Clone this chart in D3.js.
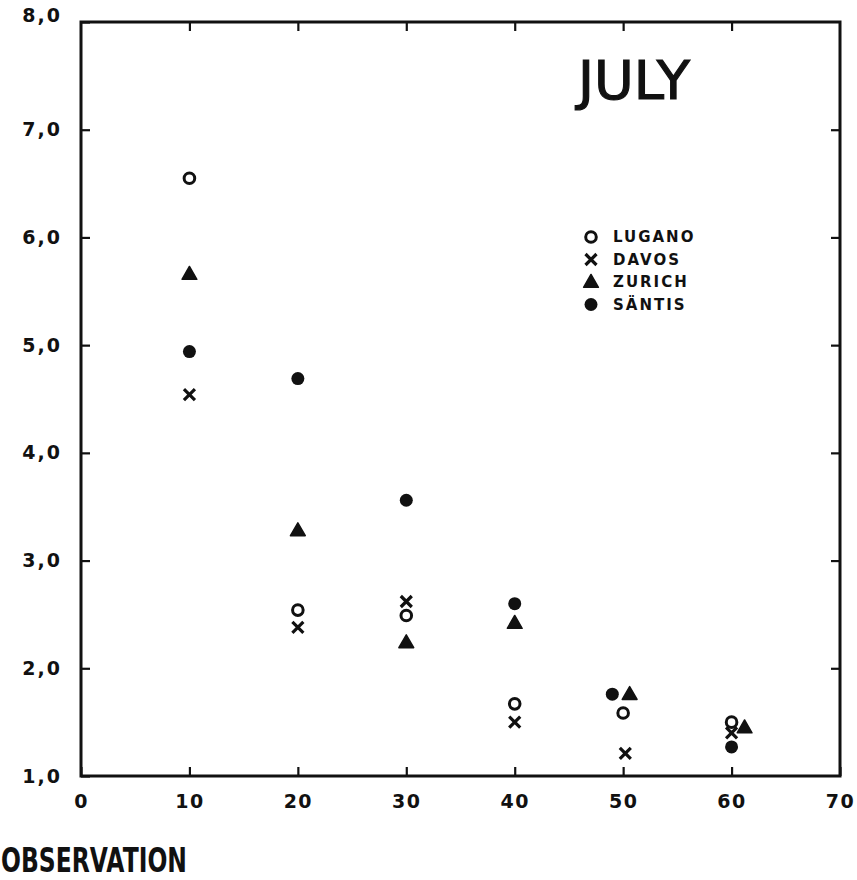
<!DOCTYPE html>
<html>
<head>
<meta charset="utf-8">
<script src="https://cdn.jsdelivr.net/npm/d3@7"></script>
<style>
  html, body { margin: 0; padding: 0; background: #fff; }
  svg { display: block; }
</style>
</head>
<body>
<div id="chart"></div>
<script>
const xTicks = [0, 10, 20, 30, 40, 50, 60, 70];
const yTicks = [1, 2, 3, 4, 5, 6, 7, 8];

const luganoX = [10, 20, 30, 40, 50, 60];
const luganoY = [6.55, 2.54, 2.49, 1.67, 1.585, 1.50];

const davosX = [10, 20, 30, 40, 50.2, 60];
const davosY = [4.54, 2.38, 2.62, 1.50, 1.21, 1.40];

const zurichX = [10, 20, 30, 40, 50.6, 61.2];
const zurichY = [5.66, 3.28, 2.24, 2.42, 1.76, 1.45];

const santisX = [10, 20, 30, 40, 49.0, 60];
const santisY = [4.94, 4.69, 3.56, 2.60, 1.76, 1.27];

const stations = ["LUGANO", "DAVOS", "ZURICH", "SÄNTIS"];
const symbols = ["openCircle", "cross", "triangle", "dot"];

const W = 857, H = 880;
const margin = { top: 22, right: 17, bottom: 104, left: 81 };
const ink = "#111";
const labelFont = "'DejaVu Sans', sans-serif";

const x = d3.scaleLinear().domain([0, 70]).range([margin.left, W - margin.right]);
const y = d3.scaleLinear().domain([1, 8]).range([H - margin.bottom, margin.top]);

const svg = d3.select("#chart").append("svg")
  .attr("width", W)
  .attr("height", H)
  .attr("viewBox", `0 0 ${W} ${H}`);

svg.append("rect").attr("width", W).attr("height", H).attr("fill", "#fff");

const tickLen = 9;

// bottom axis with inward ticks
const xAxis = svg.append("g")
  .attr("transform", `translate(0,${y(1)})`)
  .call(d3.axisBottom(x).tickValues(xTicks).tickSizeInner(-tickLen).tickSizeOuter(0).tickPadding(19).tickFormat(d3.format("d")));
xAxis.select(".domain").remove();
xAxis.selectAll(".tick line").attr("stroke", ink).attr("stroke-width", 2.2);
xAxis.selectAll(".tick text")
  .attr("fill", ink)
  .style("font-family", labelFont)
  .style("font-weight", "bold")
  .style("font-size", "19px")
  .style("letter-spacing", "1.5px");

// left axis
const yAxis = svg.append("g")
  .attr("transform", `translate(${x(0)},0)`)
  .call(d3.axisLeft(y).tickValues(yTicks).tickSizeInner(-tickLen).tickSizeOuter(0).tickPadding(19)
    .tickFormat(d => d3.format(".1f")(d).replace(".", ",")));
yAxis.select(".domain").remove();
yAxis.selectAll(".tick line").attr("stroke", ink).attr("stroke-width", 2.2);
yAxis.selectAll(".tick text")
  .attr("fill", ink)
  .style("font-family", labelFont)
  .style("font-weight", "bold")
  .style("font-size", "19px")
  .style("letter-spacing", "2px");
yAxis.selectAll(".tick")
  .filter(d => d === 8)
  .select("text").attr("dy", "-0.05em");

// top and right ticks, no labels
const topAxis = svg.append("g")
  .attr("transform", `translate(0,${y(8)})`)
  .call(d3.axisTop(x).tickValues(xTicks.slice(1, -1)).tickSizeInner(-tickLen).tickSizeOuter(0).tickFormat(""));
topAxis.select(".domain").remove();
topAxis.selectAll(".tick line").attr("stroke", ink).attr("stroke-width", 2.2);

const rightAxis = svg.append("g")
  .attr("transform", `translate(${x(70)},0)`)
  .call(d3.axisRight(y).tickValues(yTicks.slice(1, -1)).tickSizeInner(-tickLen).tickSizeOuter(0).tickFormat(""));
rightAxis.select(".domain").remove();
rightAxis.selectAll(".tick line").attr("stroke", ink).attr("stroke-width", 2.2);

// frame
svg.append("rect")
  .attr("x", x(0))
  .attr("y", y(8))
  .attr("width", x(70) - x(0))
  .attr("height", y(1) - y(8))
  .attr("fill", "none")
  .attr("stroke", ink)
  .attr("stroke-width", 3);

// marker drawing
function drawSymbol(g, kind, cx, cy) {
  if (kind === "openCircle") {
    g.append("circle").attr("cx", cx).attr("cy", cy).attr("r", 5.3)
      .attr("fill", "none").attr("stroke", ink).attr("stroke-width", 3);
  } else if (kind === "cross") {
    const s = 5.5;
    g.append("path")
      .attr("d", `M${cx - s},${cy - s}L${cx + s},${cy + s}M${cx - s},${cy + s}L${cx + s},${cy - s}`)
      .attr("stroke", ink).attr("stroke-width", 3.2).attr("fill", "none");
  } else if (kind === "triangle") {
    g.append("path")
      .attr("d", d3.symbol(d3.symbolTriangle, 95)())
      .attr("transform", `translate(${cx},${cy + 1})`)
      .attr("fill", ink).attr("stroke", ink).attr("stroke-width", 1.5).attr("stroke-linejoin", "round");
  } else {
    g.append("circle").attr("cx", cx).attr("cy", cy).attr("r", 6.5).attr("fill", ink);
  }
}

const series = [
  { xs: luganoX, ys: luganoY },
  { xs: davosX, ys: davosY },
  { xs: zurichX, ys: zurichY },
  { xs: santisX, ys: santisY }
];

const marks = svg.append("g").attr("class", "marks");
series.forEach((s, i) => {
  s.xs.forEach((xv, j) => drawSymbol(marks, symbols[i], x(xv), y(s.ys[j])));
});

// legend
const legend = svg.append("g").attr("class", "legend");
stations.forEach((name, i) => {
  const ly = 237 + i * 22.5;
  drawSymbol(legend, symbols[i], 591, ly);
  legend.append("text")
    .attr("x", 613)
    .attr("y", ly)
    .attr("dy", "0.36em")
    .attr("fill", ink)
    .style("font-family", labelFont)
    .style("font-weight", "bold")
    .style("font-size", "15px")
    .style("letter-spacing", "2px")
    .text(name);
});

// month title
svg.append("text")
  .attr("x", 578)
  .attr("y", 99)
  .attr("textLength", 112)
  .attr("lengthAdjust", "spacingAndGlyphs")
  .attr("fill", ink)
  .attr("stroke", ink)
  .attr("stroke-width", 1.2)
  .style("font-family", labelFont)
  .style("font-size", "54px")
  .text("JULY");

// axis caption at the lower left edge of the scan
svg.append("text")
  .attr("x", 1)
  .attr("y", 872)
  .attr("textLength", 186)
  .attr("lengthAdjust", "spacingAndGlyphs")
  .attr("fill", ink)
  .style("font-family", labelFont)
  .style("font-weight", "bold")
  .style("font-size", "34px")
  .text("OBSERVATION");
</script>
</body>
</html>
